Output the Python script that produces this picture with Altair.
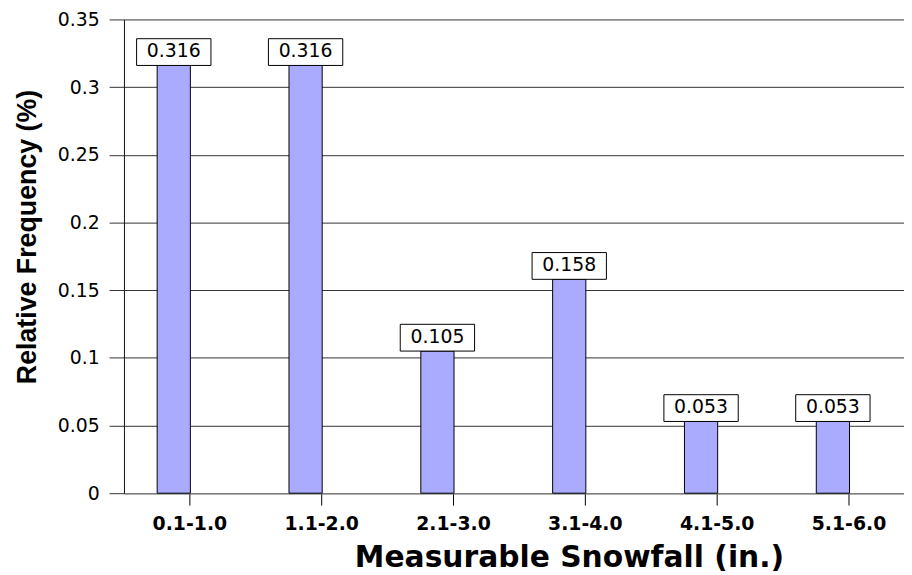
import altair as alt
import pandas as pd

categories = ["0.1-1.0", "1.1-2.0", "2.1-3.0", "3.1-4.0", "4.1-5.0", "5.1-6.0"]
frequencies = [0.316, 0.316, 0.105, 0.158, 0.053, 0.053]
y_ticks = [0, 0.05, 0.1, 0.15, 0.2, 0.25, 0.3, 0.35]

df = pd.DataFrame({"range": categories, "freq": frequencies})

BAND = 133
x_enc = alt.X(
    "range:N",
    sort=categories,
    scale=alt.Scale(range=[0, BAND * len(categories)], paddingInner=0, paddingOuter=0),
    axis=alt.Axis(
        title="Measurable Snowfall (in.)",
        titleFont="DejaVu Sans",
        titleFontSize=30,
        titleFontWeight="bold",
        titleColor="black",
        titleX=449,
        titleY=74,
        titleAlign="center",
        titleBaseline="alphabetic",
        labelAngle=0,
        labelFont="DejaVu Sans",
        labelFontSize=19,
        labelFontWeight="bold",
        labelColor="black",
        labelBaseline="alphabetic",
        labelPadding=25,
        tickSize=12,
        tickColor="black",
        tickWidth=1,
        domainColor="#808080",
        domainWidth=1.5,
        grid=False,
    ),
)

y_scale = alt.Scale(domain=[0, 0.35], nice=False)
y_axis = alt.Axis(
    values=y_ticks,
    format=".2~f",
    title="Relative Frequency (%)",
    titleFont="Liberation Sans",
    titleFontSize=27,
    titleFontWeight="bold",
    titleColor="black",
    titleX=-89,
    titleY=219,
    titleAlign="center",
    titleBaseline="alphabetic",
    titleAngle=270,
    labelFont="DejaVu Sans",
    labelFontSize=19,
    labelColor="black",
    labelPadding=10,
    tickSize=15,
    tickColor="#333333",
    tickWidth=1,
    grid=True,
    gridColor="#333333",
    gridWidth=1,
    domainColor="#111111",
    domainWidth=1,
)

base = alt.Chart(df)

bars = base.mark_bar(
    width=33.5, xOffset=-16.25, fill="#AAAAFF", stroke="black", strokeWidth=1
).encode(
    x=x_enc,
    y=alt.Y("freq:Q", scale=y_scale, axis=y_axis),
)

boxes = base.mark_bar(
    width=75, xOffset=-16.25, y2Offset=-27, fill="white", stroke="black", strokeWidth=1
).encode(
    x=alt.X("range:N", sort=categories),
    y=alt.Y("freq:Q"),
    y2=alt.Y2("freq"),
)

labels = base.mark_text(
    dx=-16.25, dy=-8.5, baseline="alphabetic", align="center",
    font="DejaVu Sans", fontSize=19, color="black",
).encode(
    x=alt.X("range:N", sort=categories),
    y=alt.Y("freq:Q"),
    text=alt.Text("freq:Q", format=".3f"),
)

chart = (
    alt.layer(bars, boxes, labels)
    .properties(
        width=787,
        height=478,
        autosize=alt.AutoSizeParams(type="none"),
        padding={"left": 117, "top": 9, "right": 0, "bottom": 80},
        background="white",
    )
    .configure_view(stroke=None)
)

chart.save("out.html", embed_options={"renderer": "svg", "actions": False})
